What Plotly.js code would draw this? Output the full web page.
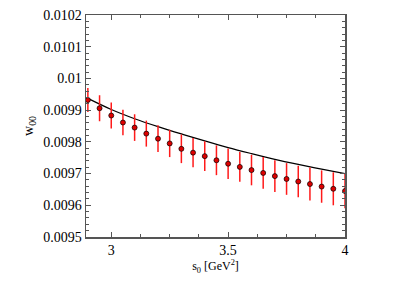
<!DOCTYPE html>
<html><head><meta charset="utf-8">
<script src="https://cdn.plot.ly/plotly-3.0.1.min.js"></script>
<style>html,body{margin:0;padding:0;background:#fff}#c{width:403px;height:285px}</style>
</head><body><div id="c"></div>
<script>
const s0 = [2.9,2.95,3.0,3.05,3.1,3.15,3.2,3.25,3.3,3.35,3.4,3.45,3.5,3.55,3.6,3.65,3.7,3.75,3.8,3.85,3.9,3.95,4.0];
const w00 = [0.009932,0.009906,0.009883,0.009861,0.009845,0.009826,0.009810,0.009795,0.009778,0.009766,0.009755,0.009742,0.009731,0.009721,0.009711,0.009702,0.009692,0.009683,0.009675,0.009667,0.009659,0.009652,0.009645];
const w00Err = [0.000038,0.000041,0.000041,0.000040,0.000042,0.000041,0.000042,0.000043,0.000045,0.000046,0.000047,0.000047,0.000048,0.000047,0.000048,0.000050,0.000050,0.000050,0.000050,0.000052,0.000051,0.000052,0.000054];
const lineS = [2.9,3.0,3.1,3.2,3.3,3.4,3.5,3.6,3.7,3.8,3.9,4.0];
const lineW = [0.009937,0.009902,0.009873,0.009848,0.009825,0.009803,0.009782,0.009763,0.009745,0.009729,0.009714,0.009700];
const yTickVals = [0.0095,0.0096,0.0097,0.0098,0.0099,0.0100,0.0101,0.0102];
const yTickText = ['0.0095','0.0096','0.0097','0.0098','0.0099','0.01','0.0101','0.0102'];
const xTickVals = [3,3.5,4];
const xTickText = ['3','3.5','4'];

const fam = "Times New Roman";
const font = {family:fam, size:14, color:'#000'};
const traces = [
  {x: lineS, y: lineW, mode:'lines', line:{color:'#000', width:1.2, shape:'spline'}, hoverinfo:'skip'},
  {x: s0, y: w00, mode:'markers',
   marker:{color:'#dd0000', size:5, line:{color:'#000', width:0.7}},
   error_y:{type:'data', array:w00Err, color:'#ff1a1a', thickness:1.5, width:0}}
];
const axisCommon = {showgrid:false, zeroline:false, showline:true, linecolor:'#555', linewidth:1.5,
  mirror:'ticks', ticks:'inside', ticklen:5, tickcolor:'#555', tickwidth:1, tickfont:font};
const layout = {
  width:403, height:285, showlegend:false,
  font:{family:fam},
  margin:{l:86, r:58, t:15, b:48},
  paper_bgcolor:'#fff', plot_bgcolor:'#fff',
  xaxis: Object.assign({}, axisCommon, {range:[2.892,4.0], tickmode:'array', tickvals:xTickVals, ticktext:xTickText,
    minor:{dtick:0.125, tick0:3, ticks:'inside', ticklen:3, tickcolor:'#555', tickwidth:1},
    title:{text:'s<sub>0</sub> [GeV<sup>2</sup>]', font:{family:fam, size:12, color:'#000'}, standoff:4}}),
  yaxis: Object.assign({}, axisCommon, {range:[0.0095,0.0102], tickmode:'array', tickvals:yTickVals, ticktext:yTickText,
    minor:{dtick:0.00002, tick0:0.0095, ticks:'inside', ticklen:3, tickcolor:'#555', tickwidth:1},
    title:{text:'w<sub>00</sub>', font:{family:fam, size:14, color:'#000'}, standoff:6}})
};
Plotly.newPlot('c', traces, layout, {staticPlot:true, displayModeBar:false});
</script></body></html>
